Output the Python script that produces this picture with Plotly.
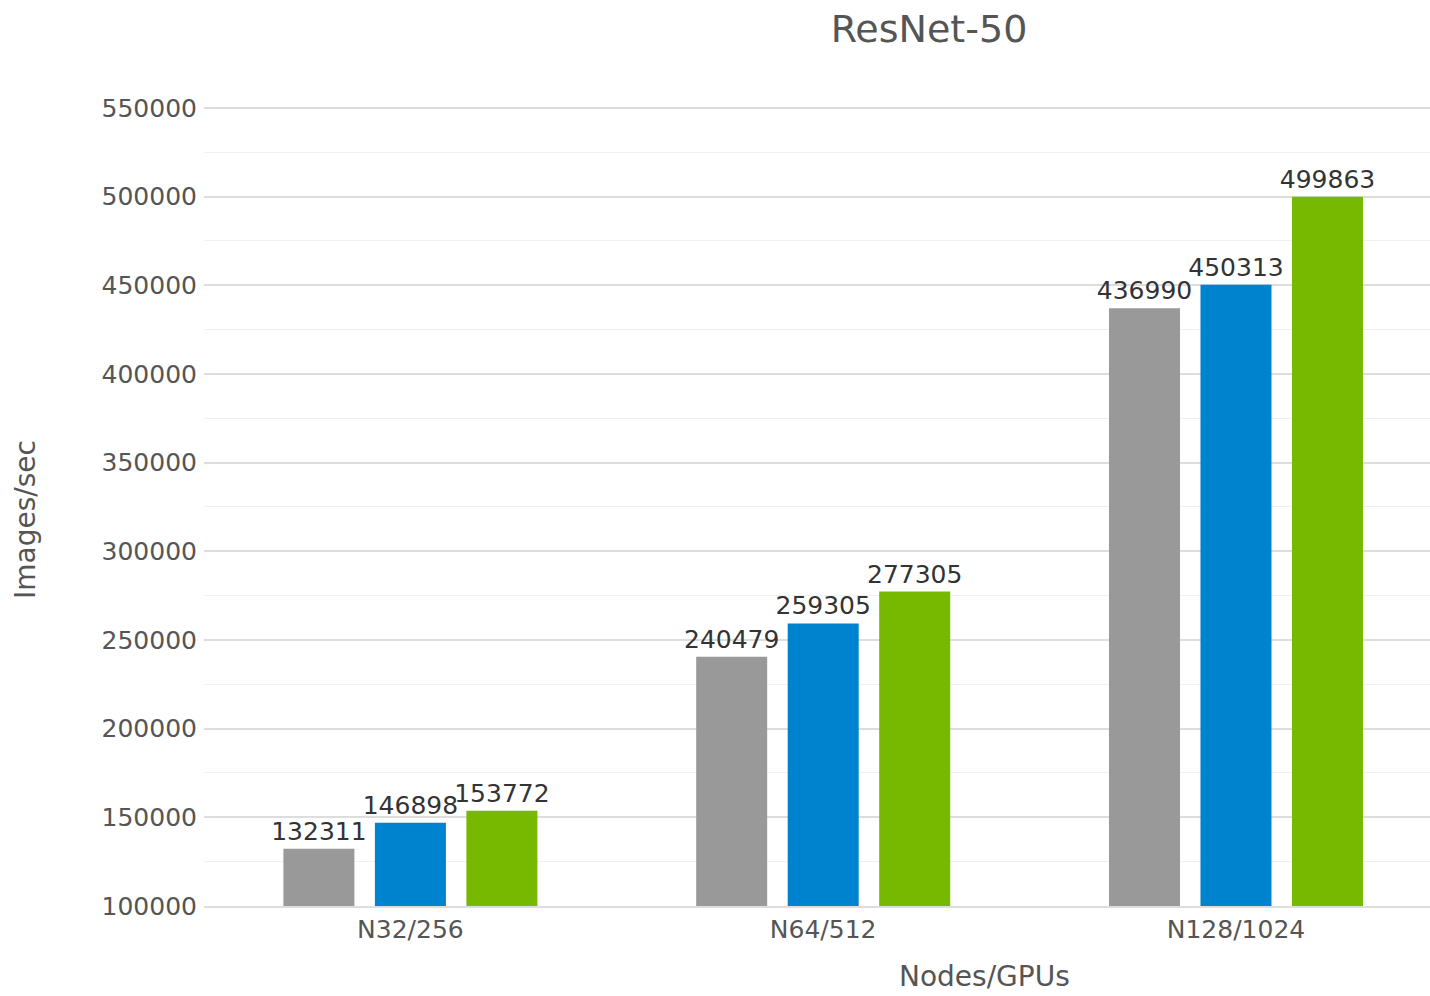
import plotly.graph_objects as go

categories = ["N32/256", "N64/512", "N128/1024"]
series_a = [132311, 240479, 436990]
series_b = [146898, 259305, 450313]
series_c = [153772, 277305, 499863]
colors = ["#999999", "#0083CF", "#76B900"]
names = ["A", "B", "C"]

W, H = 1430, 996
ML, MR, MT, MB = 204, 0, 99, 90

fig = go.Figure()
for name, vals, col in zip(names, [series_a, series_b, series_c], colors):
    fig.add_trace(go.Bar(
        x=categories, y=vals, name=name,
        marker=dict(color=col, line=dict(width=0)),
        text=[str(v) for v in vals], textposition="outside",
        constraintext="none",
        textfont=dict(family="DejaVu Sans", size=25, color="#333333"),
        cliponaxis=False,
    ))

fig.update_layout(
    width=W, height=H,
    margin=dict(l=ML, r=MR, t=MT, b=MB, autoexpand=False),
    paper_bgcolor="white", plot_bgcolor="white",
    showlegend=False,
    barmode="group", bargap=0.335, bargroupgap=0.224,
    font=dict(family="DejaVu Sans", color="#555555"),
    title=dict(text="ResNet-50", x=929 / W, xanchor="center", xref="container",
               y=1 - 29 / H, yanchor="middle", yref="container",
               font=dict(size=38, color="#555555", family="DejaVu Sans")),
)

fig.update_xaxes(
    range=[-0.5, 2.47],
    showgrid=False, showline=True, linecolor="#dddddd", linewidth=2,
    ticks="", tickfont=dict(size=25, color="#555555"),
    zeroline=False,
)
fig.update_yaxes(
    range=[100000, 555000],
    tick0=100000, dtick=50000,
    showgrid=True, gridcolor="#dddddd", gridwidth=1.5,
    minor=dict(dtick=25000, showgrid=True, gridcolor="#f0f0f0", gridwidth=1),
    ticks="", ticklabelstandoff=6,
    tickfont=dict(size=25, color="#555555"),
    tickformat="d",
    zeroline=False, showline=False,
)

fig.add_annotation(text="Nodes/GPUs", xref="paper", yref="paper",
                   x=(984 - ML) / (W - ML - MR), y=-(995 - (H - MB)) / (H - MT - MB),
                   xanchor="center", yanchor="bottom", showarrow=False,
                   font=dict(size=28, color="#555555", family="DejaVu Sans"))
fig.add_annotation(text="Images/sec", xref="paper", yref="paper",
                   x=-(ML - 25) / (W - ML - MR), y=1 - (519 - MT) / (H - MT - MB),
                   xanchor="center", yanchor="middle", textangle=-90, showarrow=False,
                   font=dict(size=28, color="#555555", family="DejaVu Sans"))

fig.write_html("out.html")
